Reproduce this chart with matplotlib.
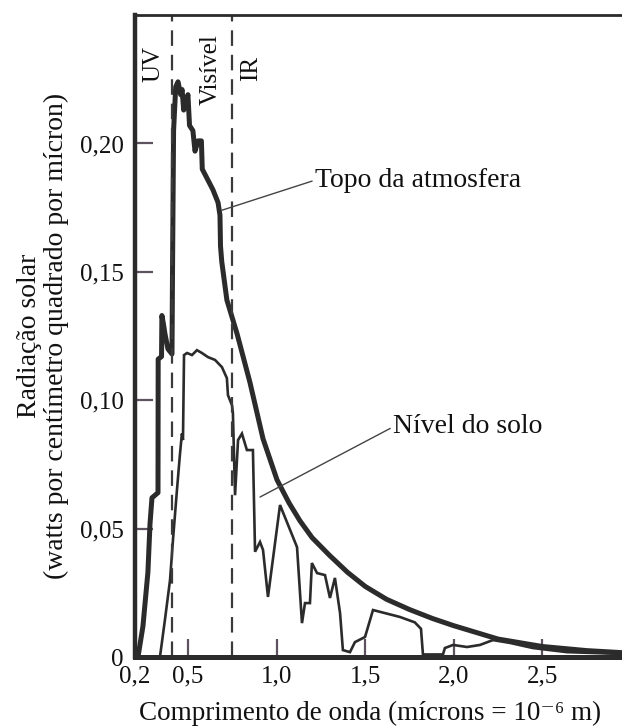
"""Solar radiation spectrum at the top of the atmosphere and at ground level.

Draws the two spectral curves with the UV / visible / IR boundaries
and saves the figure as out.png.
"""

import matplotlib.pyplot as plt

# Wavelength in microns and irradiance in W / (cm^2 * micron)
topo_wl = [0.217, 0.245, 0.273, 0.285, 0.296, 0.330, 0.331, 0.350, 0.352,
           0.360, 0.369, 0.386, 0.409, 0.412, 0.418, 0.430, 0.443, 0.458,
           0.466, 0.475, 0.488, 0.499, 0.508, 0.527, 0.539, 0.556, 0.575,
           0.580, 0.595, 0.640, 0.669, 0.680, 0.683, 0.690, 0.719, 0.776,
           0.849, 0.923, 1.002, 1.070, 1.132, 1.200, 1.300, 1.400, 1.500,
           1.620, 1.750, 1.880, 2.000, 2.250, 2.500, 2.750, 2.950]
topo_val = [0.000, 0.012, 0.033, 0.052, 0.062, 0.064, 0.116, 0.117, 0.133,
            0.130, 0.126, 0.120, 0.118, 0.150, 0.205, 0.222, 0.224, 0.219,
            0.221, 0.213, 0.216, 0.219, 0.207, 0.205, 0.197, 0.201, 0.201,
            0.190, 0.188, 0.182, 0.177, 0.172, 0.160, 0.154, 0.139, 0.126,
            0.107, 0.085, 0.069, 0.060, 0.053, 0.0465, 0.0395, 0.0330, 0.0275,
            0.0225, 0.0185, 0.0150, 0.0122, 0.0070, 0.0041, 0.0025, 0.0017]

solo_wl = [0.341, 0.369, 0.398, 0.415, 0.437, 0.454, 0.465, 0.471, 0.477,
           0.494, 0.522, 0.550, 0.578, 0.612, 0.652, 0.691, 0.719, 0.725,
           0.748, 0.753, 0.765, 0.782, 0.804, 0.832, 0.866, 0.878, 0.906,
           0.923, 0.951, 1.019, 1.115, 1.143, 1.160, 1.188, 1.199, 1.228,
           1.273, 1.301, 1.329, 1.358, 1.374, 1.414, 1.442, 1.499, 1.544,
           1.696, 1.780, 1.815, 1.826, 1.939, 1.950, 1.996, 2.075, 2.148,
           2.221, 2.317, 2.447, 2.639, 2.950]
solo_val = [0.000, 0.0144, 0.030, 0.046, 0.065, 0.079, 0.087, 0.0845, 0.1176,
            0.1184, 0.1176, 0.1195, 0.1184, 0.1168, 0.1157, 0.1129, 0.1086,
            0.102, 0.098, 0.095, 0.063, 0.0845, 0.087, 0.0806, 0.0806, 0.041,
            0.0448, 0.0417, 0.0234, 0.0592, 0.0428, 0.0132, 0.021, 0.021,
            0.0366, 0.0327, 0.0319, 0.023, 0.0308, 0.0171, 0.0027, 0.0019,
            0.0058, 0.0078, 0.0183, 0.0156, 0.0135, 0.011, 0.001, 0.001,
            0.0035, 0.0047, 0.0039, 0.0047, 0.0066, 0.0055, 0.0035, 0.0019,
            0.0012]

# Band limits (microns)
uv_limit = 0.41
ir_limit = 0.75

x_ticks = [0.2, 0.5, 1.0, 1.5, 2.0, 2.5]
x_labels = ['0,2', '0,5', '1,0', '1,5', '2,0', '2,5']
y_ticks = [0, 0.05, 0.10, 0.15, 0.20]
y_labels = ['0', '0,05', '0,10', '0,15', '0,20']

INK = '#2b2b2b'
SERIF = ['Liberation Serif', 'DejaVu Serif']


def draw_spectrum(ax):
    """Draw both spectra, band boundaries and their labels on ax.

    Parameters
    ----------
    ax : matplotlib.axes.Axes
        Axes object to draw the plot on.

    Returns
    -------
    None
    """
    ax.plot(topo_wl, topo_val, color=INK, linewidth=3.6,
            solid_joinstyle='round', clip_on=False)
    ax.plot(solo_wl, solo_val, color=INK, linewidth=1.9,
            solid_joinstyle='miter')

    for xb in (uv_limit, ir_limit):
        ax.axvline(xb, color='#3a3a3a', linewidth=1.6,
                   dashes=(7, 4))

    band_kw = dict(rotation=90, ha='center', va='center', fontsize=18,
                   family=SERIF, color='#111111')
    ax.text(0.307, 0.231, 'UV', **band_kw)
    ax.text(0.629, 0.2286, 'Visível', **band_kw)
    ax.text(0.855, 0.2294, 'IR', **band_kw)

    note_kw = dict(fontsize=20, family=SERIF, color='#111111',
                   va='center', ha='left')
    ax.annotate('Topo da atmosfera', xy=(0.691, 0.174),
                xytext=(1.216, 0.1857),
                arrowprops=dict(arrowstyle='-', color='#444444',
                                linewidth=1.0, shrinkA=0, shrinkB=0,
                                relpos=(0, 0.5)),
                **note_kw)
    ax.annotate('Nível do solo', xy=(0.906, 0.0623),
                xytext=(1.657, 0.0896),
                arrowprops=dict(arrowstyle='-', color='#444444',
                                linewidth=1.0, shrinkA=0, shrinkB=0,
                                relpos=(0, 0.5)),
                **note_kw)


def style_axes(ax):
    """Set limits, ticks, spines and axis labels.

    Parameters
    ----------
    ax : matplotlib.axes.Axes
        Axes object to style.

    Returns
    -------
    None
    """
    ax.set_xlim(0.2, 2.95)
    ax.set_ylim(0, 0.25)

    ax.set_xticks(x_ticks)
    ax.set_xticklabels(x_labels, family=SERIF, fontsize=18)
    ax.set_yticks(y_ticks)
    ax.set_yticklabels(y_labels, family=SERIF, fontsize=18)
    ax.tick_params(axis='both', direction='in', length=13, width=1.6,
                   color='#5e5260', labelcolor='#111111')
    ax.tick_params(axis='x', pad=6)
    ax.tick_params(axis='y', pad=8)

    ax.spines['right'].set_visible(False)
    ax.spines['left'].set_linewidth(3.2)
    ax.spines['bottom'].set_linewidth(3.6)
    ax.spines['top'].set_linewidth(2.0)
    for side in ('left', 'bottom', 'top'):
        ax.spines[side].set_color(INK)

    ax.set_xlabel('Comprimento de onda (mícrons = 10\u207b\u2076 m)',
                  family=SERIF, fontsize=19.5, color='#111111')
    ax.xaxis.set_label_coords(0.483, -0.068)
    ax.set_ylabel('Radiação solar\n(watts por centímetro quadrado por mícron)',
                  family=SERIF, fontsize=20, color='#111111',
                  linespacing=1.1)
    ax.yaxis.set_label_coords(-0.136, 0.5)


def main():
    """Build the figure and save it as out.png.

    Returns
    -------
    None
    """
    fig = plt.figure(figsize=(6.22, 7.28), dpi=100)
    ax = fig.add_axes([0.217, 0.0975, 0.783, 0.8818])
    draw_spectrum(ax)
    style_axes(ax)
    fig.savefig('out.png', dpi=100)
    print("Saved out.png")


if __name__ == '__main__':
    main()
